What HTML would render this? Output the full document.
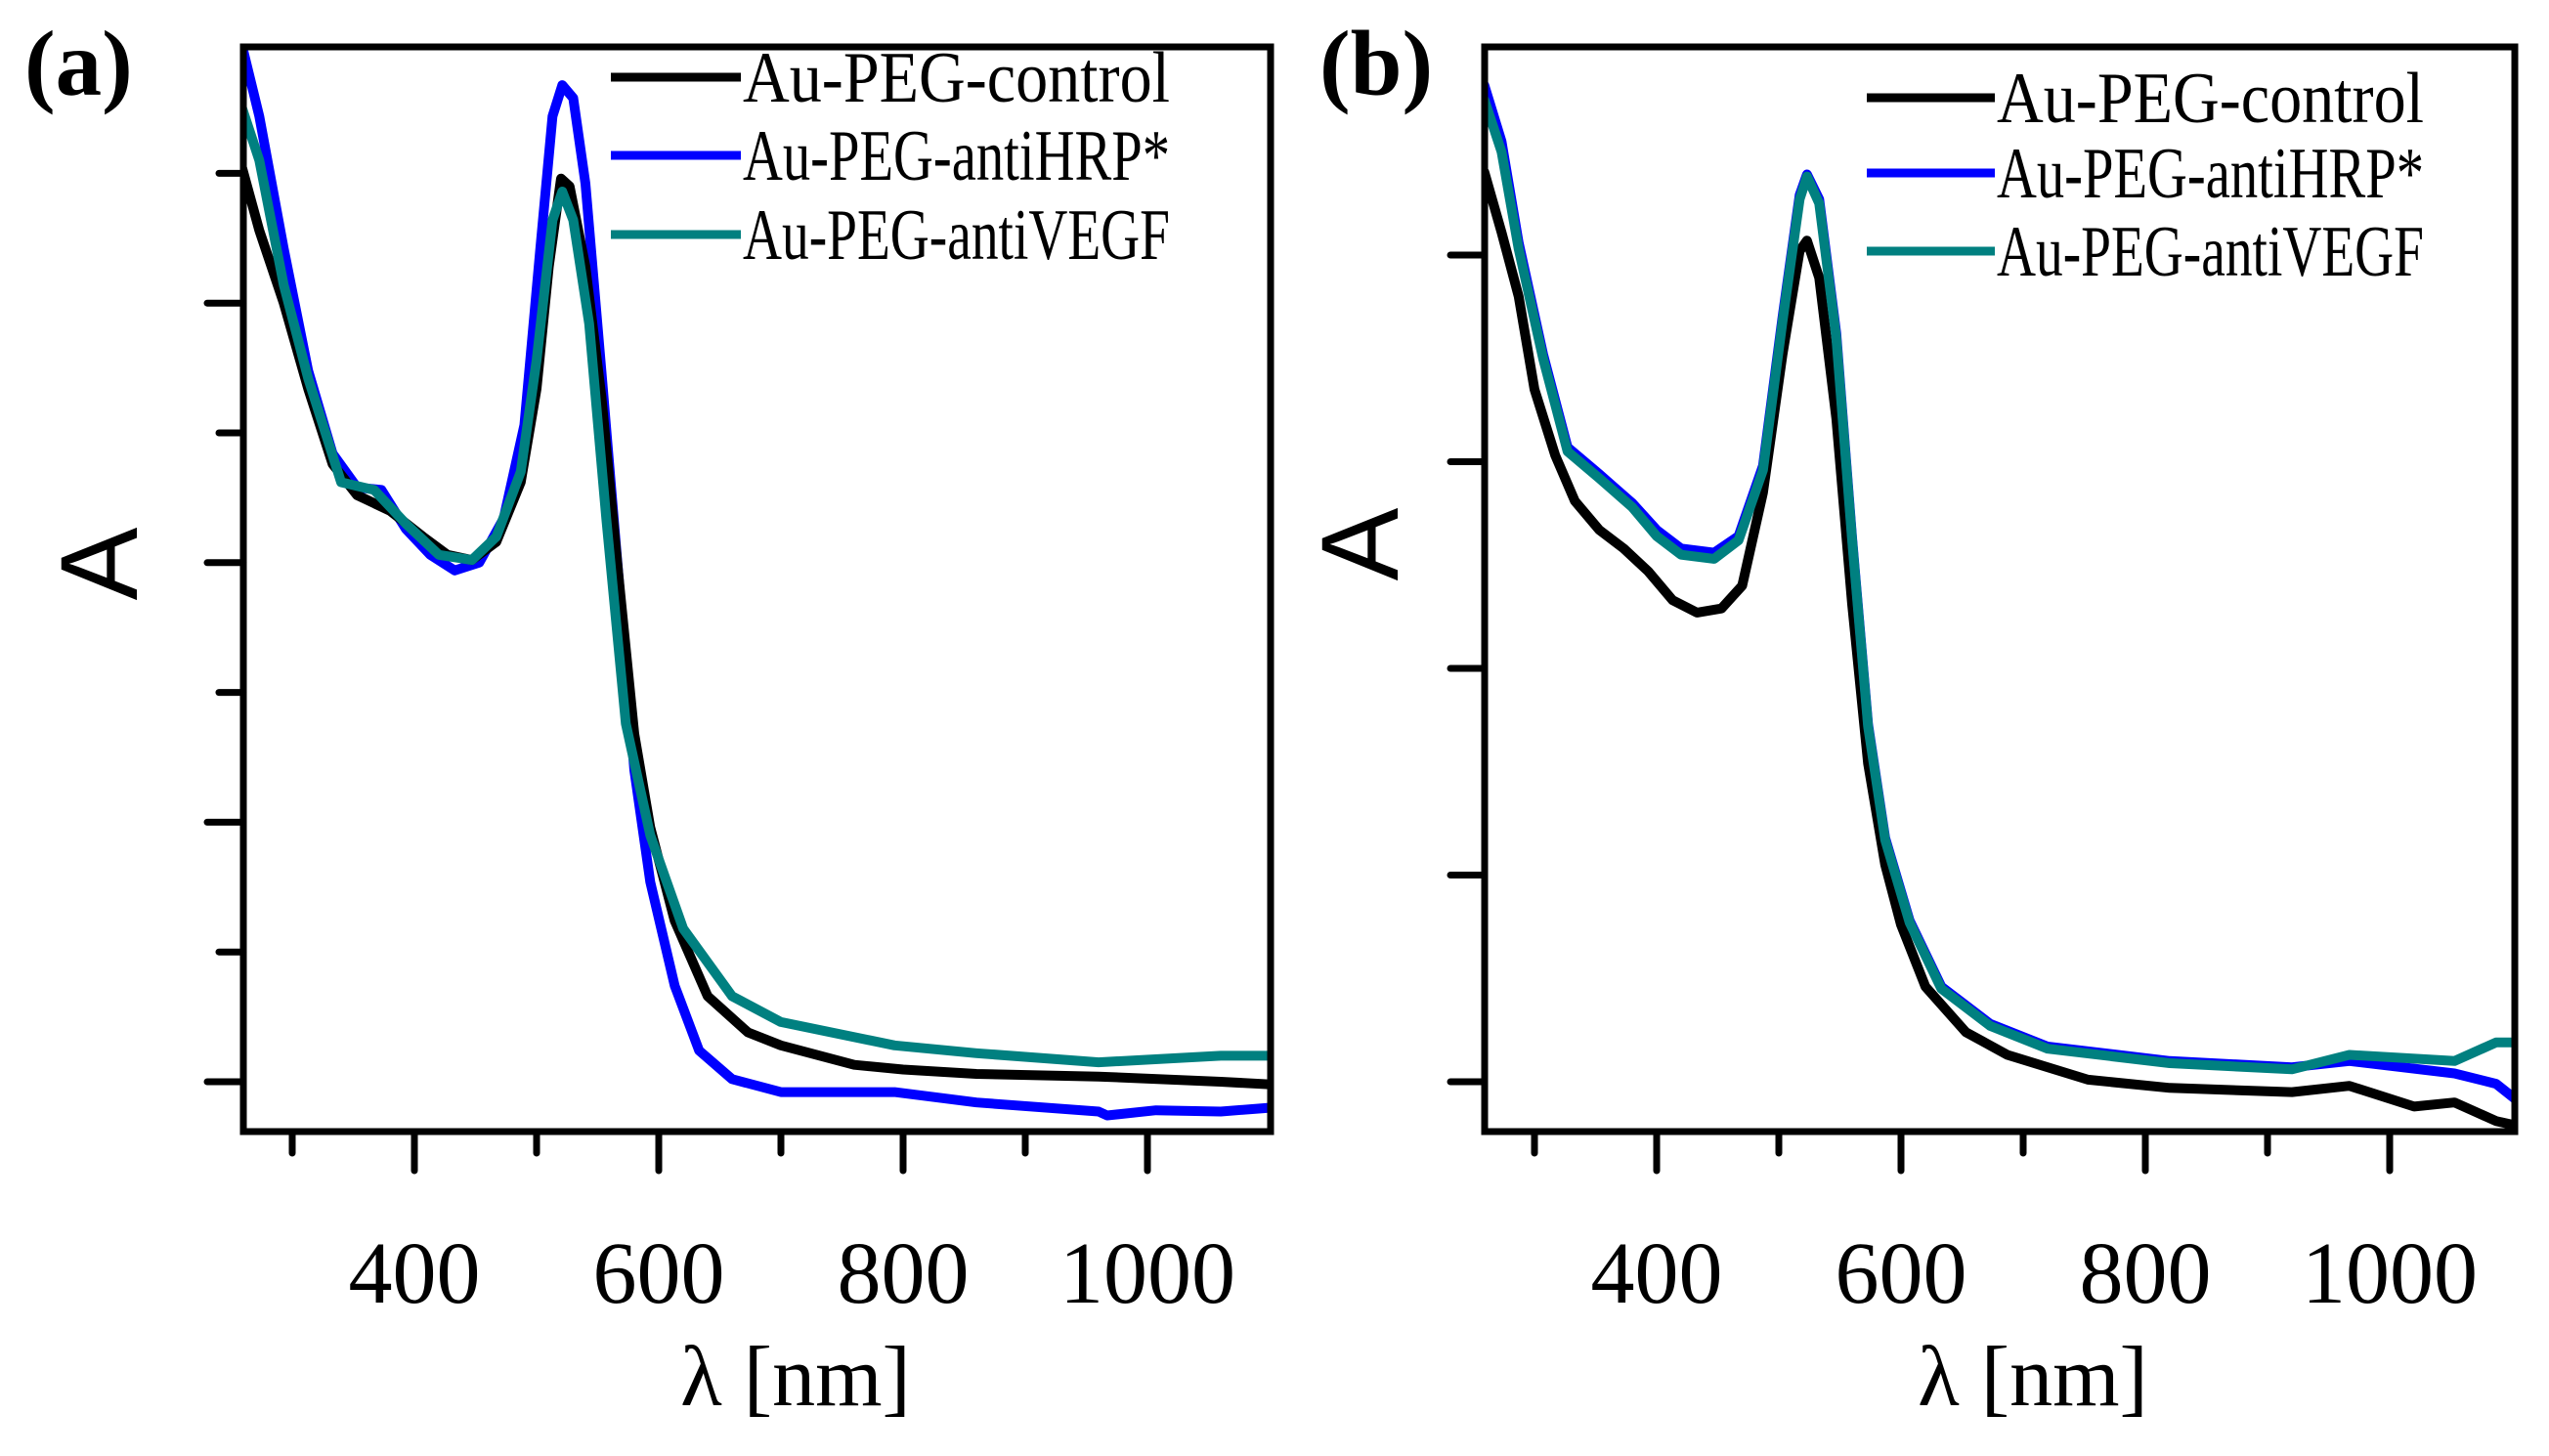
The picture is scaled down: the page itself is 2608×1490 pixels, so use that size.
<!DOCTYPE html>
<html><head><meta charset="utf-8">
<style>
html,body{margin:0;padding:0;background:#fff;}
svg{display:block;}
text{font-family:"Liberation Serif",serif;fill:#000;}
</style></head>
<body>
<svg id="chart" width="2608" height="1490" viewBox="0 0 2608 1490" xmlns="http://www.w3.org/2000/svg">
<defs>
<clipPath id="clipA"><rect x="249" y="48" width="1049" height="1110"/></clipPath>
<clipPath id="clipB"><rect x="1519" y="48" width="1054" height="1110"/></clipPath>
</defs>
<g id="panelA"></g>
<g id="panelB"></g>
</svg>
<script>
// ---- Panel (a) data ----
const aCtrlX = [259,273,293,313,333,353,380,407,427,447,467,487,500,510,520,527,540,553,567,580,593,613,640,673,700,760,800,860,960,1060,1100];
const aCtrlY = [3.52,3.28,3.0,2.67,2.38,2.26,2.2,2.10,2.03,2.01,2.08,2.31,2.67,3.14,3.48,3.45,3.14,2.64,1.95,1.34,0.98,0.62,0.33,0.19,0.14,0.065,0.047,0.03,0.02,0.0,-0.01];
const aHrpX = [259,273,293,313,333,353,373,393,413,433,453,473,490,503,513,521,530,540,553,567,580,593,613,633,660,700,793,860,960,967,1007,1060,1100];
const aHrpY = [3.99,3.72,3.21,2.74,2.42,2.29,2.28,2.13,2.03,1.97,2.0,2.17,2.53,3.21,3.72,3.84,3.79,3.46,2.74,1.95,1.2,0.77,0.37,0.12,0.01,-0.04,-0.04,-0.08,-0.115,-0.13,-0.11,-0.115,-0.1];
const aVegfX = [259,273,293,313,340,367,393,420,447,467,487,500,513,521,530,543,557,573,593,620,660,700,793,860,960,1060,1100];
const aVegfY = [3.75,3.55,3.07,2.71,2.31,2.28,2.15,2.03,2.01,2.1,2.35,2.78,3.32,3.43,3.32,2.92,2.17,1.38,0.95,0.59,0.33,0.23,0.14,0.11,0.075,0.1,0.1];
// ---- Panel (b) data ----
const bCtrlX = [259,273,287,300,317,333,353,373,393,413,433,453,470,487,503,517,523,533,547,560,573,587,600,620,653,687,753,820,920,967,1020,1053,1087,1102];
const bCtrlY = [4.4,4.11,3.8,3.35,3.03,2.81,2.67,2.58,2.47,2.33,2.27,2.29,2.4,2.85,3.52,4.02,4.07,3.89,3.21,2.31,1.54,1.05,0.76,0.46,0.24,0.13,0.01,-0.03,-0.05,-0.02,-0.12,-0.1,-0.19,-0.21];
const bHrpX = [259,273,287,307,327,353,380,400,420,447,467,487,503,517,523,533,547,560,573,587,607,633,673,720,820,920,967,1053,1087,1102];
const bHrpY = [4.82,4.55,4.06,3.52,3.07,2.94,2.8,2.67,2.58,2.56,2.64,2.98,3.7,4.29,4.39,4.27,3.62,2.63,1.73,1.18,0.78,0.46,0.28,0.17,0.1,0.07,0.1,0.04,-0.01,-0.08];
const bVegfX = [259,273,287,307,327,353,380,400,420,447,467,487,503,517,523,533,547,560,573,587,607,633,673,720,820,920,967,1053,1087,1102];
const bVegfY = [4.75,4.5,4.03,3.5,3.05,2.92,2.78,2.64,2.55,2.53,2.62,2.96,3.68,4.27,4.38,4.25,3.6,2.62,1.72,1.17,0.77,0.45,0.27,0.16,0.09,0.06,0.13,0.1,0.19,0.19];
const seriesNames = ["Au-PEG-control","Au-PEG-antiHRP*","Au-PEG-antiVEGF"];
const seriesColors = ["#000000","#0000ff","#008080"];
const xMajorTicks = [400,600,800,1000];
const xMinorTicks = [300,500,700,900];

const NS = "http://www.w3.org/2000/svg";
function mk(tag, attrs, parent){
  const e = document.createElementNS(NS, tag);
  for (const k in attrs) e.setAttribute(k, attrs[k]);
  parent.appendChild(e);
  return e;
}

function drawPanel(g, cfg){
  const xs = v => cfg.x400 + (v-400)*1.25;
  const ys = v => cfg.y0 - v*cfg.unit;
  cfg.drawOrder.forEach(i=>{
    const X = cfg.xs[i], Y = cfg.ys[i];
    let d = "";
    for (let k=0;k<X.length;k++) d += (k?"L":"M") + xs(X[k]).toFixed(1) + "," + ys(Y[k]).toFixed(1);
    const p = mk("path",{d:d,fill:"none",stroke:seriesColors[i],"stroke-width":10,"stroke-linejoin":"round","stroke-linecap":"round","clip-path":"url(#"+cfg.clip+")"},g);
    
    
  });
  const fr = mk("rect",{x:cfg.left,y:cfg.top,width:cfg.right-cfg.left,height:cfg.bottom-cfg.top,fill:"none",stroke:"#000","stroke-width":7},g);
  
  
  xMajorTicks.forEach(t=>{
    const x = xs(t);
    const l = mk("line",{x1:x,y1:cfg.bottom,x2:x,y2:cfg.bottom+40,stroke:"#000","stroke-width":7,"stroke-linecap":"round"},g);
    
    
    const tx = mk("text",{x:x,y:1333,"font-size":90,"text-anchor":"middle"},g);
    tx.textContent = t;
    
    
  });
  xMinorTicks.forEach(t=>{
    const x = xs(t);
    const l = mk("line",{x1:x,y1:cfg.bottom,x2:x,y2:cfg.bottom+22,stroke:"#000","stroke-width":7,"stroke-linecap":"round"},g);
    
    
  });
  cfg.yTicks.forEach(([v,len])=>{
    const y = ys(v);
    const l = mk("line",{x1:cfg.left-len,y1:y,x2:cfg.left,y2:y,stroke:"#000","stroke-width":7,"stroke-linecap":"round"},g);
    
    
  });
  const xt = mk("text",{x:cfg.xLabelX,y:1438,"font-size":88,"text-anchor":"middle"},g);
  xt.textContent = "λ [nm]";
  
  
  const yt = mk("text",{x:0,y:0,"font-size":112,"text-anchor":"middle",style:'font-family:"Liberation Sans",sans-serif',transform:"translate("+cfg.yLabelX+","+cfg.yLabelY+") rotate(-90)"},g);
  yt.textContent = "A";
  
  
  const pl = mk("text",{x:cfg.tagX,y:97,"font-size":95,"font-weight":"bold"},g);
  pl.textContent = cfg.tag;
  
  
  const lg = mk("g",{},g);
  
  
  [0,1,2].forEach(i=>{
    const y = cfg.legY[i];
    const ln = mk("line",{x1:cfg.legX1,y1:y,x2:cfg.legX2,y2:y,stroke:seriesColors[i],"stroke-width":9},lg);
    
    
    const tt = mk("text",{x:cfg.legX2+2,y:y+25,"font-size":74,textLength:437,lengthAdjust:"spacingAndGlyphs"},lg);
    tt.textContent = seriesNames[i];
    
    
  });
}

drawPanel(document.getElementById("panelA"),{
  left:249, top:48, right:1300, bottom:1158, x400:424, y0:1107, unit:265.6,
  xs:[aCtrlX,aHrpX,aVegfX], ys:[aCtrlY,aHrpY,aVegfY], drawOrder:[1,0,2], clip:"clipA",
  yTicks:[[0,37],[0.5,25],[1,37],[1.5,25],[2,37],[2.5,25],[3,37],[3.5,25]],
  xLabelX:814, yLabelX:140, yLabelY:577, tag:"(a)", tagX:25,
  legX1:625, legX2:758, legY:[79,159,240]
});
drawPanel(document.getElementById("panelB"),{
  left:1519, top:48, right:2573, bottom:1158, x400:1695, y0:1107, unit:211.5,
  xs:[bCtrlX,bHrpX,bVegfX], ys:[bCtrlY,bHrpY,bVegfY], drawOrder:[0,1,2], clip:"clipB",
  yTicks:[[0,35],[1,35],[2,35],[3,35],[4,35]],
  xLabelX:2080, yLabelX:1430, yLabelY:557, tag:"(b)", tagX:1350,
  legX1:1910, legX2:2041, legY:[100,177,257]
});
</script>
</body></html>
